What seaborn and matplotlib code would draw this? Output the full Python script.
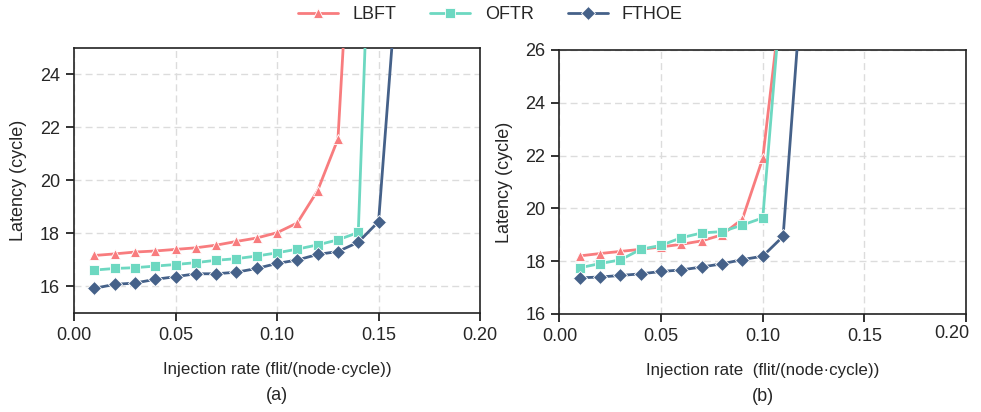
import numpy as np
import pandas as pd
import matplotlib
matplotlib.use("Agg")
import matplotlib.pyplot as plt
import matplotlib.transforms as mtransforms
import seaborn as sns

# ---- data ----
series_names = ["LBFT", "OFTR", "FTHOE"]

# panel (a)
x_a_lbft = [0.01, 0.02, 0.03, 0.04, 0.05, 0.06, 0.07, 0.08, 0.09, 0.10, 0.11, 0.12, 0.13, 0.14]
y_a_lbft = [17.17, 17.23, 17.30, 17.34, 17.40, 17.46, 17.56, 17.70, 17.83, 18.03, 18.40, 19.62, 21.57, 35.0]
x_a_oftr = [0.01, 0.02, 0.03, 0.04, 0.05, 0.06, 0.07, 0.08, 0.09, 0.10, 0.11, 0.12, 0.13, 0.14, 0.15]
y_a_oftr = [16.62, 16.68, 16.71, 16.77, 16.83, 16.90, 16.99, 17.05, 17.15, 17.27, 17.41, 17.57, 17.76, 18.04, 39.0]
x_a_fthoe = [0.01, 0.02, 0.03, 0.04, 0.05, 0.06, 0.07, 0.08, 0.09, 0.10, 0.11, 0.12, 0.13, 0.14, 0.15, 0.16]
y_a_fthoe = [15.93, 16.08, 16.13, 16.27, 16.37, 16.48, 16.48, 16.54, 16.68, 16.87, 17.00, 17.21, 17.32, 17.67, 18.45, 28.5]

# panel (b)
x_b_lbft = [0.01, 0.02, 0.03, 0.04, 0.05, 0.06, 0.07, 0.08, 0.09, 0.10, 0.11]
y_b_lbft = [18.20, 18.29, 18.37, 18.45, 18.54, 18.64, 18.77, 19.00, 19.60, 21.90, 28.5]
x_b_oftr = [0.01, 0.02, 0.03, 0.04, 0.05, 0.06, 0.07, 0.08, 0.09, 0.10, 0.11]
y_b_oftr = [17.75, 17.91, 18.05, 18.45, 18.60, 18.89, 19.07, 19.12, 19.37, 19.64, 29.0]
x_b_fthoe = [0.01, 0.02, 0.03, 0.04, 0.05, 0.06, 0.07, 0.08, 0.09, 0.10, 0.11, 0.12]
y_b_fthoe = [17.37, 17.40, 17.46, 17.52, 17.61, 17.67, 17.78, 17.90, 18.06, 18.19, 18.94, 29.3]

x_ticks = [0.00, 0.05, 0.10, 0.15, 0.20]
x_tick_labels = ["0.00", "0.05", "0.10", "0.15", "0.20"]
y_ticks_a = [16, 18, 20, 22, 24]
y_ticks_b = [16, 18, 20, 22, 24, 26]

colors = {"LBFT": "#F87C7E", "OFTR": "#6DD8C1", "FTHOE": "#456189"}
markers = {"LBFT": "^", "OFTR": "s", "FTHOE": "D"}


def make_df(xs, ys):
    frames = []
    for name, x, y in zip(series_names, xs, ys):
        frames.append(pd.DataFrame({"x": x, "y": y, "Method": name}))
    return pd.concat(frames, ignore_index=True)


df_a = make_df([x_a_lbft, x_a_oftr, x_a_fthoe], [y_a_lbft, y_a_oftr, y_a_fthoe])
df_b = make_df([x_b_lbft, x_b_oftr, x_b_fthoe], [y_b_lbft, y_b_oftr, y_b_fthoe])

sns.set_theme(style="ticks")
plt.rcParams["font.family"] = ["Liberation Sans", "DejaVu Sans"]
plt.rcParams["axes.edgecolor"] = "#222222"
plt.rcParams["axes.linewidth"] = 1.2

fig = plt.figure(figsize=(9.81, 4.12), dpi=100)
ax_a = fig.add_axes([0.0754, 0.2403, 0.4140, 0.6432])
ax_b = fig.add_axes([0.5703, 0.2379, 0.4145, 0.6408])

FS = 13

for ax, df, yl, yt, xlabel, tag in [
    (ax_a, df_a, (15, 25), y_ticks_a, "Injection rate (flit/(node\u00b7cycle))", "(a)"),
    (ax_b, df_b, (16, 26), y_ticks_b, "Injection rate  (flit/(node\u00b7cycle))", "(b)"),
]:
    sns.lineplot(data=df, x="x", y="y", hue="Method", style="Method",
                 hue_order=series_names, style_order=series_names,
                 palette=colors, markers=markers, dashes=False,
                 linewidth=2.0, markersize=7.5, markeredgewidth=0.6,
                 ax=ax, legend=(ax is ax_a), zorder=3)
    ax.set_xlim(0, 0.2)
    ax.set_ylim(*yl)
    ax.set_xticks(x_ticks)
    ax.set_xticklabels(x_tick_labels)
    ax.set_yticks(yt)
    ax.grid(True, linestyle=(0, (5, 3)), color="#dcdcdc", linewidth=1.0)
    ax.set_xlabel(xlabel, fontsize=12.2, labelpad=13)
    ax.set_ylabel("Latency (cycle)", fontsize=FS, labelpad=9)
    ax.text(0.5, -0.313, tag, transform=ax.transAxes, ha="center", va="center", fontsize=FS)
    for sp in ax.spines.values():
        sp.set_visible(True)
        sp.set_color("#222222")
        sp.set_linewidth(1.2)
    ax.xaxis.set_ticks_position("bottom")
    ax.yaxis.set_ticks_position("left")
    ax.tick_params(axis="both", which="major", labelsize=FS, pad=4,
                   direction="out", length=6, width=1.3, color="#222222",
                   tick1On=True)

# keep the right-most tick label inside the figure (as in the reference)
last = ax_b.get_xticklabels()[-1]
last.set_transform(last.get_transform() +
                   mtransforms.ScaledTranslation(-10 / 72, 2 / 72, fig.dpi_scale_trans))

handles, labels = ax_a.get_legend_handles_labels()
ax_a.get_legend().remove()
fig.legend(handles, labels, loc="center", bbox_to_anchor=(0.5, 0.965), ncol=3,
           frameon=False, fontsize=FS, handlelength=2.2, handletextpad=0.8,
           columnspacing=1.9)

fig.savefig("out.png", dpi=100)
